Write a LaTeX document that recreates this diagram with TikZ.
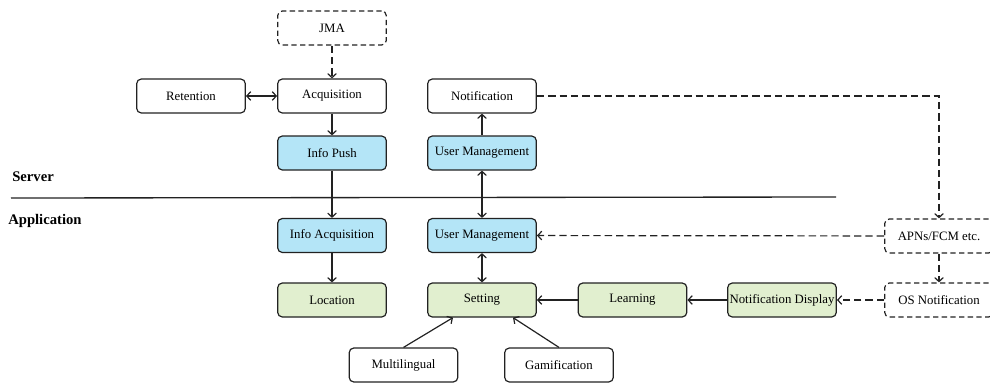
\documentclass[tikz,border=0pt]{standalone}
\usepackage{fontspec}
\setmainfont{Liberation Serif}
\usetikzlibrary{arrows.meta}
\definecolor{boxblue}{HTML}{B4E5F7}
\definecolor{boxgreen}{HTML}{E1EFCF}
\definecolor{edge}{HTML}{222222}
\tikzset{
  block/.style={draw=edge, line width=0.9pt, rounded corners=3.5pt,
    minimum width=81.5pt, minimum height=25.5pt, inner sep=1pt,
    font=\fontsize{9.6}{11}\selectfont, text=black},
  serverbox/.style={block, fill=boxblue},
  appbox/.style={block, fill=boxgreen},
  extbox/.style={block, dash pattern=on 4pt off 2.5pt},
  link/.style={draw=edge, line width=0.9pt, -{Straight Barb[length=3pt,width=6.5pt]}},
  twoway/.style={link, {Straight Barb[length=3pt,width=6.5pt]}-{Straight Barb[length=3pt,width=6.5pt]}},
  dlink/.style={link, dash pattern=on 5.5pt off 3pt},
  layer/.style={font=\fontsize{11}{13}\selectfont\bfseries, anchor=west, inner sep=0pt}
}
\begin{document}
\begin{tikzpicture}[x=0.75pt,y=-0.75pt]
\useasboundingbox (0,0) rectangle (990,383);

% server side
\node[extbox] (jma) at (332,28) {JMA};
\node[block] (ret) at (191,96) {Retention};
\node[block] (acq) at (332,96) {Acquisition};
\node[block] (notif) at (482,96) {Notification};
\node[serverbox] (push) at (332,153) {Info Push};
\node[serverbox] (ums) at (482,153) {User Management};

% layer separator and labels
\coordinate (sepL) at (11,198);
\coordinate (sepR) at (836,197);
\draw[line width=1pt, edge] (sepL) -- (sepR);
\node[layer] (lblsrv) at (12,177) {Server};
\node[layer] (lblapp) at (8,221) {Application};

% application side
\node[serverbox] (infoacq) at (332,235.5) {Info Acquisition};
\node[serverbox] (uma) at (482,235.5) {User Management};
\node[extbox] (apns) at (939,236) {APNs/FCM etc.};
\node[appbox] (loc) at (332,300) {Location};
\node[appbox] (set) at (482,300) {Setting};
\node[appbox] (learn) at (632.5,300) {Learning};
\node[appbox] (ndisp) at (782,300) {Notification Display};
\node[extbox] (osn) at (939,300) {OS Notification};
\node[block] (multi) at (403.5,365) {Multilingual};
\node[block] (gami) at (559,365) {Gamification};

% connectors
\draw[dlink] (jma) -- (acq);
\draw[twoway] (ret) -- (acq);
\draw[link] (acq) -- (push);
\draw[link] (push) -- (infoacq);
\draw[link] (ums) -- (notif);
\draw[twoway] (ums) -- (uma);
\draw[link] (infoacq) -- (loc);
\draw[twoway] (uma) -- (set);
\draw[link] (learn) -- (set);
\draw[link] (ndisp) -- (learn);
\draw[dlink] (notif.east) -| (apns.north);
\draw[dlink] (apns) -- (uma);
\draw[dlink] (apns) -- (osn);
\draw[dlink] (osn) -- (ndisp);
\draw[link] (multi.north) -- ([xshift=-21.75pt]set.south);
\draw[link] (gami.north) -- ([xshift=23.25pt]set.south);
\end{tikzpicture}
\end{document}
